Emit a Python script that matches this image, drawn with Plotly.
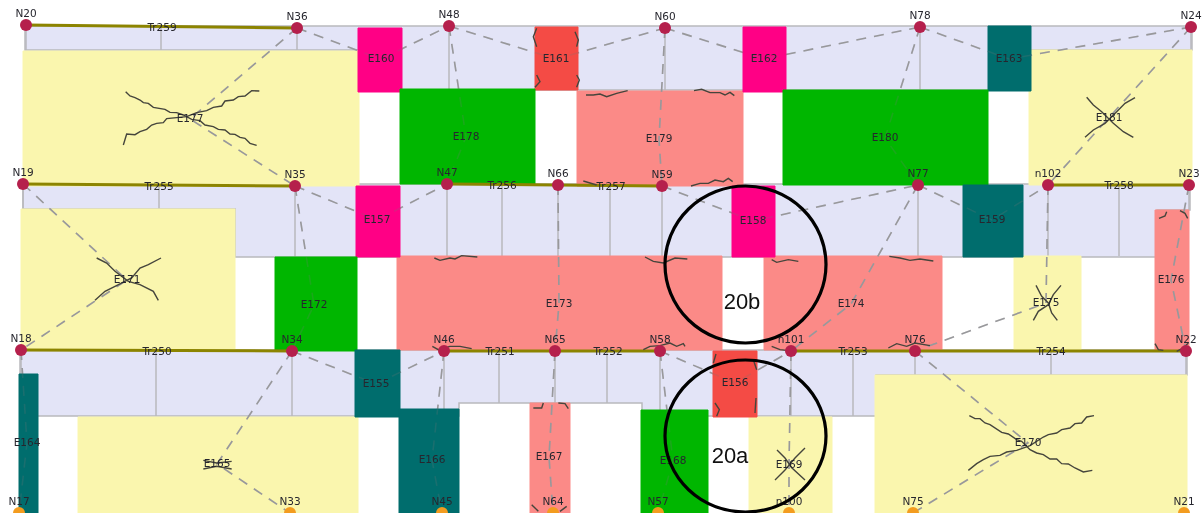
import plotly.graph_objects as go

# ---- nodes ----
node_names = ["N20","N36","N48","N60","N78","N24","N19","N35","N47","N66","N59","N77","n102","N23",
              "N18","N34","N46","N65","N58","n101","N76","N22"]
node_x = [26,297,449,665,920,1191,23,295,447,558,662,918,1048,1189,21,292,444,555,660,791,915,1186]
node_y = [25,28,26,28,27,27,184,186,184,185,186,185,185,185,350,351,351,351,351,351,351,351]
base_names = ["N17","N33","N45","N64","N57","n100","N75","N21"]
base_x = [19,290,442,553,658,789,913,1184]
base_y = [513,513,513,513,513,513,513,513]

# ---- elements: x0,x1,y0,y1, kind, label position, the two nodes joined by dashes ----
el_names = ["E160","E161","E162","E163","E177","E178","E179","E180","E181","E157","E158","E159",
            "E171","E172","E173","E174","E175","E176","E155","E156","E164","E165","E166","E167","E168","E169","E170"]
el_x0 = [358,535,743,988,23,400,577,783,1029,356,732,963,21,275,397,764,1014,1155,355,713,19,78,399,530,641,749,875]
el_x1 = [402,578,786,1031,359,535,743,988,1192,400,775,1023,235,357,722,942,1081,1189,400,757,38,358,459,570,708,832,1187]
el_y0 = [28,27,27,26,51,89,91,90,50,186,186,185,209,257,256,256,256,210,350,351,374,417,409,403,410,417,375]
el_y1 = [92,90,92,91,186,184,186,185,185,257,257,257,350,351,350,350,350,350,417,417,513,513,513,513,513,513,513]
el_kind = ["pink","red","pink","teal","yellow","green","salmon","green","yellow","pink","pink","teal",
           "yellow","green","salmon","salmon","yellow","salmon","teal","red","teal","yellow","teal","salmon","green","yellow","yellow"]
el_lx = [381,556,764,1009,190,466,659,885,1109,377,753,992,127,314,559,851,1046,1171,376,735,27,217,432,549,673,789,1028]
el_ly = [59,59,59,59,119,137,139,138,118,220,221,220,280,305,304,304,303,280,384,383,443,464,460,457,461,465,443]
el_a = ["N36","N48","N60","N78","N36","N48","N60","N78","N24","N35","N59","N77","N19","N35","N66","N77","n102","N23","N34","N58","N18","N34","N46","N65","N58","n101","N76"]
el_b = ["N48","N60","N78","N24","N35","N47","N59","N77","n102","N47","N77","n102","N18","N34","N65","n101","N76","N22","N46","n101","N17","N33","N45","N64","N57","n100","N75"]

palette = {"pink":"#ff0085","red":"#f44b45","teal":"#006d6d","yellow":"#faf6ae","green":"#00b600","salmon":"#fb8a87"}
lavender = "#e3e4f7"
grey = "#b9b9bd"

# ---- lavender bands (outline vertices) ----
band_top_x = [25,1192,1192,1030,1030,360,360,25,25]
band_top_y = [26,26,50,50,90,90,50,50,26]
band_mid_x = [23,1190,1190,1157,1157,235,235,23,23]
band_mid_y = [184,184,210,210,257,257,209,209,184]
band_low_x = [20,1187,1187,876,876,642,642,459,459,20,20]
band_low_y = [350,350,375,375,416,416,403,403,416,416,350]

# ---- joists: x, y top, y bottom ----
joist_x  = [26,161,297,449,665,920,1191, 23,159,295,447,502,558,610,662,918,1048,1119,1189,
            21,156,292,444,499,555,607,660,791,853,915,1051,1186]
joist_y0 = [26,27,28,28,28,28,28, 184,186,186,185,186,186,186,186,185,185,186,186,
            350,351,351,351,351,351,351,351,351,351,351,351,351]
joist_y1 = [50,50,50,89,90,90,50, 209,209,257,256,256,256,256,256,256,256,256,210,
            375,416,416,409,403,403,403,410,416,416,375,375,375]

# ---- trusses ----
truss_a = ["N20","N19","N47","n102","N18","N46","n101"]
truss_b = ["N36","N35","N59","N23","N34","N58","N22"]
truss_names = ["Tr259","Tr255","Tr256","Tr257","Tr258","Tr250","Tr251","Tr252","Tr253","Tr254"]
truss_lx = [162,159,502,611,1119,157,500,608,853,1051]
truss_ly = [28,187,186,187,186,352,352,352,352,352]

cracks = [
 (0,0,[377,390,405,420,430,445,460,475,495,510,530,550,575,600,615,640,655,675,690,705,720,735,750,770],
      [275,288,293,300,308,310,322,325,328,337,338,345,358,362,375,380,388,390,402,403,412,415,430,436]),
 (0,0,[370,380,405,420,440,455,470,490,500,530,560,590,620,640,665,675,700,715,735,755,778],
      [435,402,404,395,388,375,370,368,356,352,350,338,332,322,318,303,300,290,288,272,273]),
 (400,0,[410,400,410],[85,110,140]),(400,0,[410,420,405],[225,245,262]),
 (400,0,[525,535,530],[95,120,140]),(400,0,[530,538,530],[225,240,262]),
 (400,0,[558,580,600,620,650,683],[285,285,282,290,280,272]),
 (400,0,[882,905,930,960,975,990,1003],[272,268,278,278,285,277,287]),
 (400,0,[550,570,590],[543,550,555]),
 (400,0,[873,900,925,945,970,985,998],[558,550,550,540,545,535,545]),
 (800,0,[860,880,905,940,970,1000],[292,315,335,370,395,412]),
 (800,0,[1005,975,950,915,880,855],[293,310,335,370,390,412]),
 (400,253,[103,120,150,165,185,232],[15,22,15,18,8,12]),
 (400,253,[735,760,790,825,862],[12,25,30,15,18]),
 (400,253,[97,115,150,180,215],[280,290,280,280,287]),
 (400,253,[730,750,780,810,830,850,855],[290,280,278,270,280,272,280]),
 (400,253,[1115,1130,1165,1195],[20,28,20,25]),
 (800,253,[268,300,330,360,400],[10,15,22,18,24]),
 (400,253,[1115,1140,1160],[280,290,292]),
 (800,253,[265,290,320,345,390],[285,272,280,270,278]),
 (800,0,[1077,1095,1100],[655,648,635]),(800,0,[1140,1155,1163],[632,640,655]),
 (800,253,[1065,1075,1090],[272,290,292]),(800,253,[1130,1150,1165],[295,285,270]),
 (400,253,[948,940],[303,330]),(400,253,[1060,1070],[320,350]),
 (400,253,[945,958,950],[450,470,490]),(400,253,[1068,1065],[435,480]),
 (400,253,[400,425,430],[465,465,450]),(400,253,[475,495,505],[450,452,467]),
 (400,253,[395,415],[755,775]),(400,253,[480,500],[775,760]),
 (800,253,[708,725,745,755,772],[97,130,150,180,202]),
 (800,253,[783,760,745,715,700],[97,125,155,175,202]),
 (0,253,[290,320,345,385,420,460,475],[15,30,55,85,95,115,142]),
 (0,253,[483,445,420,395,345,315,285],[15,35,45,75,100,115,142]),
 (800,253,[508,525,540,555,570,585,605,625,650,665,690,710,730,750,770,785,805,825,850,877],
          [488,497,497,510,515,525,538,543,560,565,590,600,605,618,618,632,633,645,657,652]),
 (800,253,[505,530,550,570,600,620,650,690,730,745,770,785,810,825,845,860,882],
          [652,632,620,610,607,597,592,578,552,545,540,530,525,512,510,492,488]),
 (0,253,[610,650,695],[622,630,625]),(0,253,[610,650,695],[648,640,648]),
]
e169_a_x = [777,785,792,805]; e169_a_y = [450,458,468,480]
e169_b_x = [805,795,785,775]; e169_b_y = [448,458,470,480]

# ---- circled callouts ----
ring_names = ["20b","20a"]
ring_x0 = [665,665]; ring_x1 = [826,826]
ring_y0 = [186,360]; ring_y1 = [343,512]
ring_lx = [742,730]; ring_ly = [303,457]

pos = dict(zip(node_names + base_names, zip(node_x + base_x, node_y + base_y)))
fig = go.Figure()

def add_poly(xs, ys, fill, line=None, w=1):
    fig.add_trace(go.Scatter(x=xs, y=ys, mode="lines", fill="toself", fillcolor=fill,
                             line=dict(color=line or fill, width=w), hoverinfo="skip", showlegend=False))

for bx, by in [(band_top_x, band_top_y), (band_mid_x, band_mid_y), (band_low_x, band_low_y)]:
    add_poly(bx, by, lavender, grey, 1.5)

# joists
jx, jy = [], []
for x, a, b in zip(joist_x, joist_y0, joist_y1):
    jx += [x, x, None]; jy += [a, b, None]
fig.add_trace(go.Scatter(x=jx, y=jy, mode="lines", line=dict(color=grey, width=1.5), hoverinfo="skip", showlegend=False))

def add_elements(kinds):
    for x0, x1, y0, y1, k in zip(el_x0, el_x1, el_y0, el_y1, el_kind):
        if k in kinds:
            add_poly([x0, x1, x1, x0, x0], [y0, y0, y1, y1, y0], palette[k])

# dashed struts
dx, dy = [], []
for lx, ly, a, b in zip(el_lx, el_ly, el_a, el_b):
    dx += [pos[a][0], lx, pos[b][0], None]; dy += [pos[a][1], ly, pos[b][1], None]

add_elements({"yellow", "salmon"})
fig.add_trace(go.Scatter(x=dx, y=dy, mode="lines", line=dict(color="#a2a2a6", width=1.6, dash="10px,8px"),
                         hoverinfo="skip", showlegend=False))
add_elements({"pink", "red", "teal", "green"})
fig.add_trace(go.Scatter(x=dx, y=dy, mode="lines", line=dict(color="rgba(120,120,120,0.22)", width=1.6, dash="10px,8px"),
                         hoverinfo="skip", showlegend=False))

# trusses
tx, ty = [], []
for a, b in zip(truss_a, truss_b):
    tx += [pos[a][0], pos[b][0], None]; ty += [pos[a][1], pos[b][1], None]
fig.add_trace(go.Scatter(x=tx, y=ty, mode="lines", line=dict(color="#8c8400", width=3), hoverinfo="skip", showlegend=False))

# cracks
cx, cy = [], []
for ox, oy, xs, ys in cracks:
    cx += [ox + v / 3 for v in xs] + [None]
    cy += [oy + v / 3 for v in ys] + [None]
cx += e169_a_x + [None] + e169_b_x + [None]
cy += e169_a_y + [None] + e169_b_y + [None]
fig.add_trace(go.Scatter(x=cx, y=cy, mode="lines", line=dict(color="#45453c", width=1.4), hoverinfo="skip", showlegend=False))

# nodes
fig.add_trace(go.Scatter(x=node_x, y=node_y, mode="markers", marker=dict(color="#b5204c", size=12), hoverinfo="skip", showlegend=False))
fig.add_trace(go.Scatter(x=base_x, y=base_y, mode="markers", marker=dict(color="#f39c1f", size=12), hoverinfo="skip", showlegend=False))

font = dict(family="DejaVu Sans", size=10.5, color="#26262e")
fig.add_trace(go.Scatter(x=node_x + base_x, y=[v - 11 for v in node_y + base_y], text=node_names + base_names,
                         mode="text", textposition="middle center", textfont=font, hoverinfo="skip", showlegend=False))
fig.add_trace(go.Scatter(x=el_lx, y=el_ly, text=el_names, mode="text", textposition="middle center",
                         textfont=font, hoverinfo="skip", showlegend=False))
fig.add_trace(go.Scatter(x=truss_lx, y=truss_ly, text=truss_names, mode="text", textposition="middle center",
                         textfont=font, hoverinfo="skip", showlegend=False))
fig.add_trace(go.Scatter(x=ring_lx, y=ring_ly, text=ring_names, mode="text", textposition="middle center",
                         textfont=dict(family="Liberation Sans", size=22, color="#111111"), hoverinfo="skip", showlegend=False))

for x0, x1, y0, y1 in zip(ring_x0, ring_x1, ring_y0, ring_y1):
    fig.add_shape(type="circle", xref="x", yref="y", x0=x0, x1=x1, y0=y0, y1=y1,
                  line=dict(color="black", width=3.2), layer="above")

fig.update_xaxes(range=[0, 1203], visible=False, fixedrange=True)
fig.update_yaxes(range=[513, 0], visible=False, fixedrange=True)
fig.update_layout(width=1203, height=513, margin=dict(l=0, r=0, t=0, b=0),
                  paper_bgcolor="white", plot_bgcolor="white", showlegend=False)
fig.write_html("out.html", config={"displayModeBar": False},
               post_script="document.body.style.margin='0';document.body.style.overflow='hidden';document.body.style.filter='blur(0.4px)';")
